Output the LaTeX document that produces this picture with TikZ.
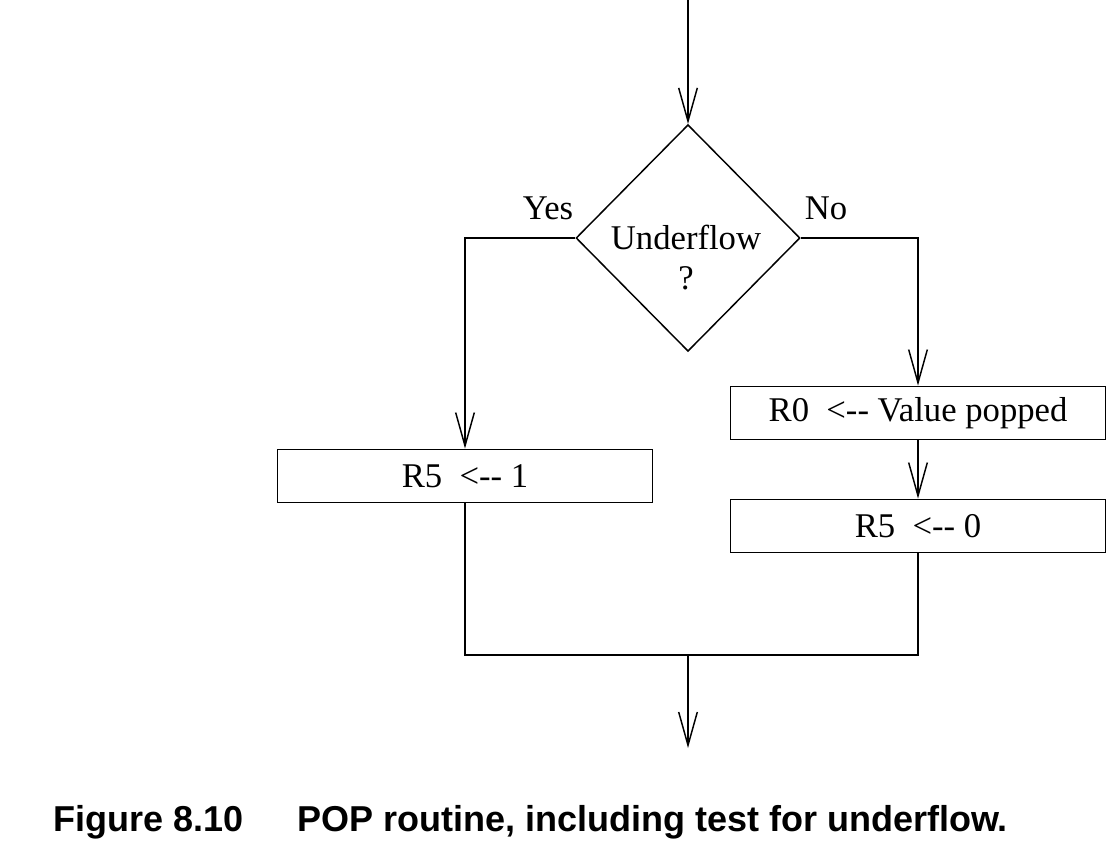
\documentclass[tikz,border=0pt]{standalone}
\usepackage{fontspec}
\setmainfont{Liberation Serif}
\newfontfamily\capfont{Liberation Sans}
\usepackage{tikz}
\usetikzlibrary{arrows.meta, positioning, shapes.geometric}

\begin{document}
\begin{tikzpicture}[x=0.75pt, y=-0.75pt, line width=1.1pt,
    txt/.style={font=\fontsize{26}{30}\selectfont},
    arr/.style={-{Straight Barb[length=25pt, width=14pt]}},
    decision/.style={diamond, draw, inner sep=0pt, minimum width=168pt, minimum height=170pt},
    box/.style={rectangle, draw, txt, minimum width=281pt, minimum height=40pt, inner sep=0pt}]
    \useasboundingbox (0,0) rectangle (1120,864);

    % Underflow test
    \node[decision] (dec) at (688,238) {};
    \node[txt, align=center] (dectext) at (686,258) {Underflow\\?};
    \node[txt] (yes) at (548,208) {Yes};
    \node[txt] (no) at (826,208) {No};

    % Boxes
    \node[box] (boxL) at (465,476) {R5\ \ {<}-{}- 1};
    \node[box] (boxA) at (918,413) {R0\ \ {<}-{}- Value popped};
    \node[box] (boxB) at (918,526) {R5\ \ {<}-{}- 0};

    % Connectors
    \coordinate (top) at (688,0);
    \coordinate (join) at (688,655);
    \coordinate (out) at (688,748);
    \draw[arr] (top) -- (dec.north);
    \draw[arr] (dec.west) -| (boxL.north);
    \draw[arr] (dec.east) -| (boxA.north);
    \draw[arr] (boxA) -- (boxB);
    \draw (boxL.south) |- (join) -| (boxB.south);
    \draw[arr] (join) -- (out);

    % Caption
    \node[anchor=west, font=\capfont\bfseries\fontsize{27}{32}\selectfont] (fig) at (48,822) {Figure 8.10};
    \node[anchor=west, font=\capfont\bfseries\fontsize{27}{32}\selectfont] (cap) at (292,822) {POP routine, including test for underflow.};
\end{tikzpicture}
\end{document}
